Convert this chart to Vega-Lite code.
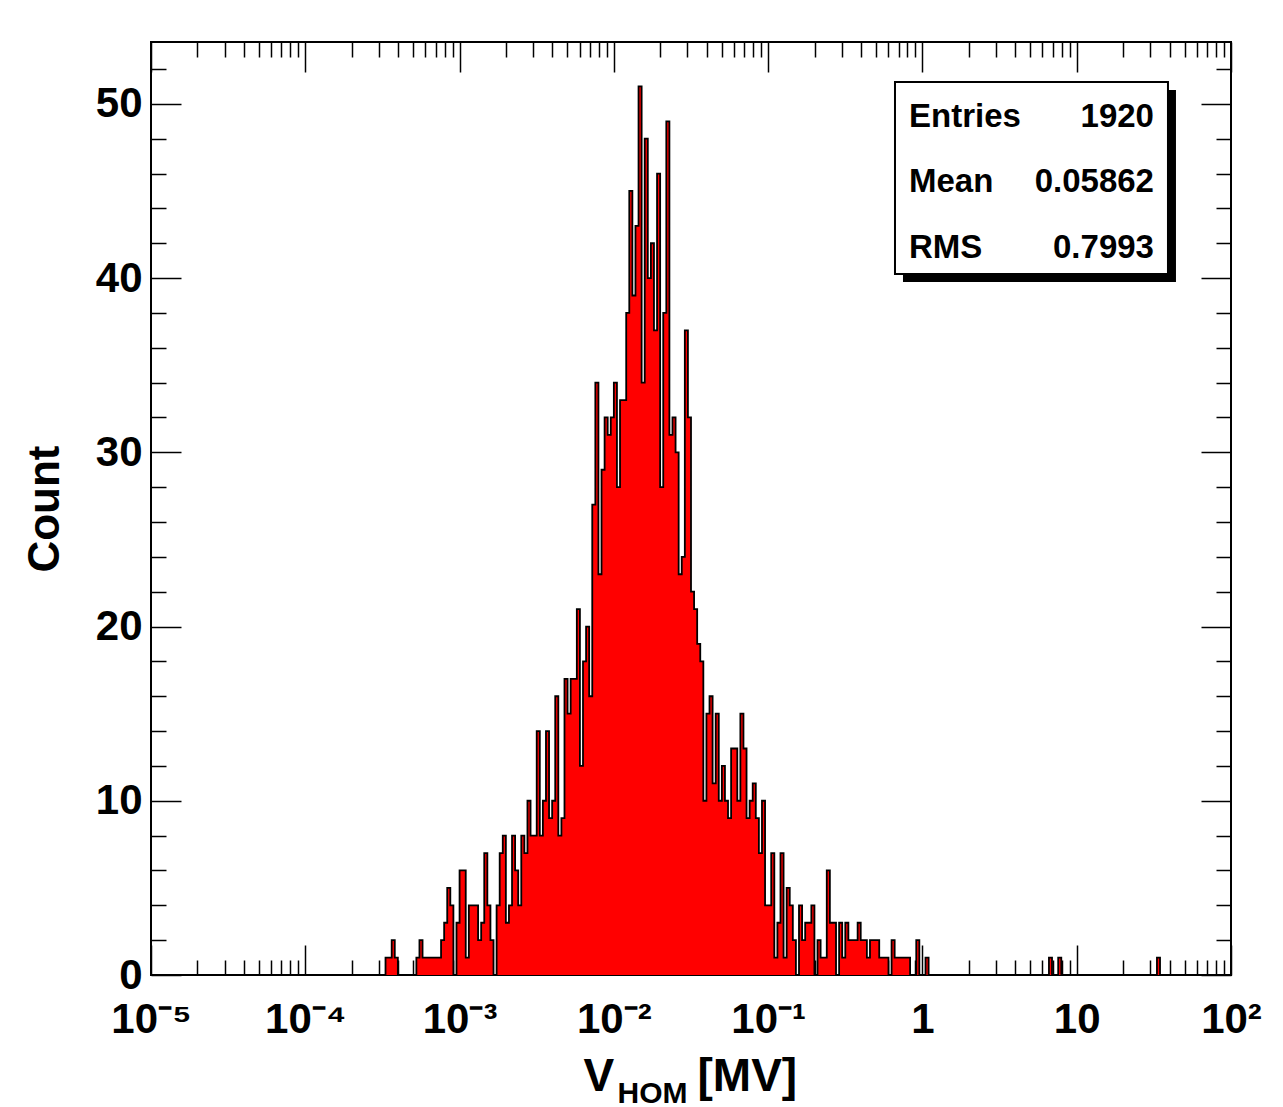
{
  "$schema": "https://vega.github.io/schema/vega-lite/v6.json",
  "width": 1080,
  "height": 933,
  "autosize": {"type": "none"},
  "padding": {"left": 151, "top": 42, "right": 52, "bottom": 132},
  "background": "#ffffff",
  "config": {"view": {"stroke": "#000000", "strokeWidth": 2}},
  "datasets": {
    "hist": [
      {"vhom": 0.00031623, "count": 0}, {"vhom": 0.00033113, "count": 1}, {"vhom": 0.00034674, "count": 1}, {"vhom": 0.00036308, "count": 2},
      {"vhom": 0.00038019, "count": 1}, {"vhom": 0.00039811, "count": 0}, {"vhom": 0.00052481, "count": 1}, {"vhom": 0.00054954, "count": 2},
      {"vhom": 0.00057544, "count": 1}, {"vhom": 0.00060256, "count": 1}, {"vhom": 0.00063096, "count": 1}, {"vhom": 0.00066069, "count": 1},
      {"vhom": 0.00069183, "count": 1}, {"vhom": 0.00072444, "count": 1}, {"vhom": 0.00075858, "count": 2}, {"vhom": 0.00079433, "count": 3},
      {"vhom": 0.00083176, "count": 5}, {"vhom": 0.00087096, "count": 4}, {"vhom": 0.00091201, "count": 0}, {"vhom": 0.00095499, "count": 3},
      {"vhom": 0.001, "count": 6}, {"vhom": 0.0010471, "count": 6}, {"vhom": 0.0010965, "count": 1}, {"vhom": 0.0011482, "count": 4},
      {"vhom": 0.0012023, "count": 4}, {"vhom": 0.0012589, "count": 4}, {"vhom": 0.0013183, "count": 2}, {"vhom": 0.0013804, "count": 3},
      {"vhom": 0.0014454, "count": 7}, {"vhom": 0.0015136, "count": 4}, {"vhom": 0.0015849, "count": 2}, {"vhom": 0.0016596, "count": 0},
      {"vhom": 0.0017378, "count": 4}, {"vhom": 0.0018197, "count": 7}, {"vhom": 0.0019055, "count": 8}, {"vhom": 0.0019953, "count": 3},
      {"vhom": 0.0020893, "count": 4}, {"vhom": 0.0021878, "count": 8}, {"vhom": 0.0022909, "count": 6}, {"vhom": 0.0023988, "count": 4},
      {"vhom": 0.0025119, "count": 8}, {"vhom": 0.0026303, "count": 7}, {"vhom": 0.0027542, "count": 10}, {"vhom": 0.002884, "count": 8},
      {"vhom": 0.00302, "count": 8}, {"vhom": 0.0031623, "count": 14}, {"vhom": 0.0033113, "count": 8}, {"vhom": 0.0034674, "count": 10},
      {"vhom": 0.0036308, "count": 14}, {"vhom": 0.0038019, "count": 9}, {"vhom": 0.0039811, "count": 10}, {"vhom": 0.0041687, "count": 16},
      {"vhom": 0.0043652, "count": 8}, {"vhom": 0.0045709, "count": 9}, {"vhom": 0.0047863, "count": 17}, {"vhom": 0.0050119, "count": 15},
      {"vhom": 0.0052481, "count": 17}, {"vhom": 0.0054954, "count": 17}, {"vhom": 0.0057544, "count": 21}, {"vhom": 0.0060256, "count": 12},
      {"vhom": 0.0063096, "count": 18}, {"vhom": 0.0066069, "count": 20}, {"vhom": 0.0069183, "count": 16}, {"vhom": 0.0072444, "count": 27},
      {"vhom": 0.0075858, "count": 34}, {"vhom": 0.0079433, "count": 23}, {"vhom": 0.0083176, "count": 29}, {"vhom": 0.0087096, "count": 32},
      {"vhom": 0.0091201, "count": 31}, {"vhom": 0.0095499, "count": 32}, {"vhom": 0.01, "count": 34}, {"vhom": 0.010471, "count": 28},
      {"vhom": 0.010965, "count": 33}, {"vhom": 0.011482, "count": 33}, {"vhom": 0.012023, "count": 38}, {"vhom": 0.012589, "count": 45},
      {"vhom": 0.013183, "count": 39}, {"vhom": 0.013804, "count": 43}, {"vhom": 0.014454, "count": 51}, {"vhom": 0.015136, "count": 34},
      {"vhom": 0.015849, "count": 48}, {"vhom": 0.016596, "count": 40}, {"vhom": 0.017378, "count": 42}, {"vhom": 0.018197, "count": 37},
      {"vhom": 0.019055, "count": 46}, {"vhom": 0.019953, "count": 28}, {"vhom": 0.020893, "count": 38}, {"vhom": 0.021878, "count": 49},
      {"vhom": 0.022909, "count": 31}, {"vhom": 0.023988, "count": 32}, {"vhom": 0.025119, "count": 30}, {"vhom": 0.026303, "count": 23},
      {"vhom": 0.027542, "count": 24}, {"vhom": 0.02884, "count": 37}, {"vhom": 0.0302, "count": 32}, {"vhom": 0.031623, "count": 22},
      {"vhom": 0.033113, "count": 21}, {"vhom": 0.034674, "count": 19}, {"vhom": 0.036308, "count": 18}, {"vhom": 0.038019, "count": 10},
      {"vhom": 0.039811, "count": 15}, {"vhom": 0.041687, "count": 16}, {"vhom": 0.043652, "count": 11}, {"vhom": 0.045709, "count": 15},
      {"vhom": 0.047863, "count": 10}, {"vhom": 0.050119, "count": 12}, {"vhom": 0.052481, "count": 10}, {"vhom": 0.054954, "count": 9},
      {"vhom": 0.057544, "count": 13}, {"vhom": 0.060256, "count": 13}, {"vhom": 0.063096, "count": 10}, {"vhom": 0.066069, "count": 15},
      {"vhom": 0.069183, "count": 13}, {"vhom": 0.072444, "count": 9}, {"vhom": 0.075858, "count": 10}, {"vhom": 0.079433, "count": 11},
      {"vhom": 0.083176, "count": 9}, {"vhom": 0.087096, "count": 7}, {"vhom": 0.091201, "count": 10}, {"vhom": 0.095499, "count": 4},
      {"vhom": 0.1, "count": 4}, {"vhom": 0.10471, "count": 7}, {"vhom": 0.10965, "count": 1}, {"vhom": 0.11482, "count": 3},
      {"vhom": 0.12023, "count": 7}, {"vhom": 0.12589, "count": 1}, {"vhom": 0.13183, "count": 5}, {"vhom": 0.13804, "count": 4},
      {"vhom": 0.14454, "count": 2}, {"vhom": 0.15136, "count": 0}, {"vhom": 0.15849, "count": 4}, {"vhom": 0.16596, "count": 2},
      {"vhom": 0.17378, "count": 3}, {"vhom": 0.18197, "count": 3}, {"vhom": 0.19055, "count": 4}, {"vhom": 0.19953, "count": 0},
      {"vhom": 0.20893, "count": 2}, {"vhom": 0.21878, "count": 1}, {"vhom": 0.22909, "count": 1}, {"vhom": 0.23988, "count": 6},
      {"vhom": 0.25119, "count": 3}, {"vhom": 0.26303, "count": 3}, {"vhom": 0.27542, "count": 0}, {"vhom": 0.2884, "count": 3},
      {"vhom": 0.302, "count": 1}, {"vhom": 0.31623, "count": 3}, {"vhom": 0.33113, "count": 2}, {"vhom": 0.34674, "count": 2},
      {"vhom": 0.36308, "count": 2}, {"vhom": 0.38019, "count": 3}, {"vhom": 0.39811, "count": 2}, {"vhom": 0.41687, "count": 2},
      {"vhom": 0.43652, "count": 1}, {"vhom": 0.45709, "count": 2}, {"vhom": 0.47863, "count": 2}, {"vhom": 0.50119, "count": 2},
      {"vhom": 0.52481, "count": 1}, {"vhom": 0.54954, "count": 1}, {"vhom": 0.57544, "count": 1}, {"vhom": 0.60256, "count": 0},
      {"vhom": 0.63096, "count": 2}, {"vhom": 0.66069, "count": 1}, {"vhom": 0.69183, "count": 1}, {"vhom": 0.72444, "count": 1},
      {"vhom": 0.75858, "count": 1}, {"vhom": 0.79433, "count": 1}, {"vhom": 0.83176, "count": 0}, {"vhom": 0.91201, "count": 2},
      {"vhom": 0.95499, "count": 0}, {"vhom": 1.0471, "count": 1}, {"vhom": 1.0965, "count": 0}, {"vhom": 6.6069, "count": 1},
      {"vhom": 6.9183, "count": 0}, {"vhom": 7.5858, "count": 1}, {"vhom": 7.9433, "count": 0}, {"vhom": 33.113, "count": 1},
      {"vhom": 34.674, "count": 0}
    ],
    "stats": [
      {"stat": "Entries", "value": "1920"},
      {"stat": "Mean", "value": "0.05862"},
      {"stat": "RMS", "value": "0.7993"}
    ],
    "box": [{"name": "stats box"}]
  },
  "resolve": {"scale": {"x": "shared", "y": "shared"}, "axis": {"x": "independent", "y": "independent"}},
  "layer": [
    {
      "data": {"name": "hist"},
      "mark": {"type": "area", "interpolate": "step-after", "color": "#ff0000", "opacity": 1},
      "encoding": {
        "x": {
          "field": "vhom", "type": "quantitative",
          "scale": {"type": "log", "domain": [0.00001, 100], "nice": false},
          "axis": {
            "orient": "bottom",
            "values": [1e-5,2e-5,3e-5,4e-5,5e-5,6e-5,7e-5,8e-5,9e-5,1e-4,2e-4,3e-4,4e-4,5e-4,6e-4,7e-4,8e-4,9e-4,0.001,0.002,0.003,0.004,0.005,0.006,0.007,0.008,0.009,0.01,0.02,0.03,0.04,0.05,0.06,0.07,0.08,0.09,0.1,0.2,0.3,0.4,0.5,0.6,0.7,0.8,0.9,1,2,3,4,5,6,7,8,9,10,20,30,40,50,60,70,80,90,100],
            "domain": false, "grid": false,
            "tickColor": "#000000", "tickWidth": 1.5,
            "tickSize": {"condition": {"test": "abs(log(datum.value)/LN10 - round(log(datum.value)/LN10)) < 0.001", "value": -30}, "value": -15},
            "labelExpr": "abs(log(datum.value)/LN10 - round(log(datum.value)/LN10)) < 0.001 ? ['10⁻⁵','10⁻⁴','10⁻³','10⁻²','10⁻¹','1','10','10²'][round(log(datum.value)/LN10)+5] : ''",
            "labelFont": "Liberation Sans", "labelFontWeight": "bold", "labelFontSize": 42, "labelColor": "#000000",
            "labelPadding": 54, "labelOverlap": false, "labelFlush": false, "labelBound": false,
            "labelBaseline": "top", "labelAlign": "center",
            "title": "V", "titleFont": "Liberation Sans", "titleFontWeight": "bold", "titleFontSize": 46, "titleColor": "#000000",
            "titleX": 432, "titleY": 115, "titleAlign": "left", "titleBaseline": "alphabetic", "titleAngle": 0
          }
        },
        "y": {
          "field": "count", "type": "quantitative",
          "scale": {"domain": [0, 53.55], "nice": false, "zero": true},
          "axis": {
            "orient": "left",
            "values": [0,2,4,6,8,10,12,14,16,18,20,22,24,26,28,30,32,34,36,38,40,42,44,46,48,50,52],
            "domain": false, "grid": false,
            "tickColor": "#000000", "tickWidth": 1.5,
            "tickSize": {"condition": {"test": "datum.value % 10 === 0", "value": -30}, "value": -15},
            "labelExpr": "datum.value % 10 === 0 ? datum.label : ''",
            "labelFont": "Liberation Sans", "labelFontWeight": "bold", "labelFontSize": 42, "labelColor": "#000000",
            "labelPadding": 39, "labelOverlap": false, "labelFlush": false, "labelBound": false,
            "title": "Count", "titleFont": "Liberation Sans", "titleFontWeight": "bold", "titleFontSize": 44, "titleColor": "#000000",
            "titlePadding": 28
          }
        }
      }
    },
    {
      "data": {"name": "hist"},
      "mark": {"type": "line", "interpolate": "step-after", "color": "#000000", "strokeWidth": 1.8},
      "encoding": {
        "x": {
          "field": "vhom", "type": "quantitative",
          "scale": {"type": "log", "domain": [0.00001, 100], "nice": false},
          "axis": {
            "orient": "top",
            "values": [1e-5,2e-5,3e-5,4e-5,5e-5,6e-5,7e-5,8e-5,9e-5,1e-4,2e-4,3e-4,4e-4,5e-4,6e-4,7e-4,8e-4,9e-4,0.001,0.002,0.003,0.004,0.005,0.006,0.007,0.008,0.009,0.01,0.02,0.03,0.04,0.05,0.06,0.07,0.08,0.09,0.1,0.2,0.3,0.4,0.5,0.6,0.7,0.8,0.9,1,2,3,4,5,6,7,8,9,10,20,30,40,50,60,70,80,90,100],
            "domain": false, "grid": false, "labels": false,
            "tickColor": "#000000", "tickWidth": 1.5,
            "tickSize": {"condition": {"test": "abs(log(datum.value)/LN10 - round(log(datum.value)/LN10)) < 0.001", "value": -30}, "value": -15},
            "title": "HOM", "titleFont": "Liberation Sans", "titleFontWeight": "bold", "titleFontSize": 30, "titleColor": "#000000",
            "titleX": 466, "titleY": 1060, "titleAlign": "left", "titleBaseline": "alphabetic", "titleAngle": 0
          }
        },
        "y": {
          "field": "count", "type": "quantitative",
          "scale": {"domain": [0, 53.55], "nice": false, "zero": true},
          "axis": {
            "orient": "right",
            "values": [0,2,4,6,8,10,12,14,16,18,20,22,24,26,28,30,32,34,36,38,40,42,44,46,48,50,52],
            "domain": false, "grid": false, "labels": false,
            "tickColor": "#000000", "tickWidth": 1.5,
            "tickSize": {"condition": {"test": "datum.value % 10 === 0", "value": -30}, "value": -15},
            "title": "[MV]", "titleFont": "Liberation Sans", "titleFontWeight": "bold", "titleFontSize": 46, "titleColor": "#000000",
            "titleX": -534, "titleY": 1048, "titleAlign": "left", "titleBaseline": "alphabetic", "titleAngle": 0
          }
        }
      }
    },
    {
      "data": {"name": "box"},
      "mark": {"type": "rect", "color": "#000000"},
      "encoding": {
        "x": {"datum": 0.7482, "type": "quantitative", "scale": {"type": "log", "domain": [0.00001, 100], "nice": false}, "axis": null},
        "x2": {"datum": 43.99},
        "y": {"datum": 50.80, "type": "quantitative", "scale": {"domain": [0, 53.55], "nice": false, "zero": true}, "axis": null},
        "y2": {"datum": 39.78}
      }
    },
    {
      "data": {"name": "box"},
      "mark": {"type": "rect", "fill": "#ffffff", "stroke": "#000000", "strokeWidth": 2},
      "encoding": {
        "x": {"datum": 0.664, "type": "quantitative", "scale": {"type": "log", "domain": [0.00001, 100], "nice": false}, "axis": null},
        "x2": {"datum": 39.04},
        "y": {"datum": 51.26, "type": "quantitative", "scale": {"domain": [0, 53.55], "nice": false, "zero": true}, "axis": null},
        "y2": {"datum": 40.24}
      }
    },
    {
      "data": {"name": "stats"},
      "transform": [{"filter": "datum.stat === 'Entries'"}],
      "mark": {"type": "text", "align": "left", "baseline": "alphabetic", "font": "Liberation Sans", "fontWeight": "bold", "fontSize": 33, "color": "#000000"},
      "encoding": {
        "x": {"datum": 0.8181, "type": "quantitative", "scale": {"type": "log", "domain": [0.00001, 100], "nice": false}, "axis": null},
        "y": {"datum": 48.66, "type": "quantitative", "scale": {"domain": [0, 53.55], "nice": false, "zero": true}, "axis": null},
        "text": {"field": "stat", "type": "nominal"}
      }
    },
    {
      "data": {"name": "stats"},
      "transform": [{"filter": "datum.stat === 'Entries'"}],
      "mark": {"type": "text", "align": "right", "baseline": "alphabetic", "font": "Liberation Sans", "fontWeight": "bold", "fontSize": 33, "color": "#000000"},
      "encoding": {
        "x": {"datum": 31.67, "type": "quantitative", "scale": {"type": "log", "domain": [0.00001, 100], "nice": false}, "axis": null},
        "y": {"datum": 48.66, "type": "quantitative", "scale": {"domain": [0, 53.55], "nice": false, "zero": true}, "axis": null},
        "text": {"field": "value", "type": "nominal"}
      }
    },
    {
      "data": {"name": "stats"},
      "transform": [{"filter": "datum.stat === 'Mean'"}],
      "mark": {"type": "text", "align": "left", "baseline": "alphabetic", "font": "Liberation Sans", "fontWeight": "bold", "fontSize": 33, "color": "#000000"},
      "encoding": {
        "x": {"datum": 0.8181, "type": "quantitative", "scale": {"type": "log", "domain": [0.00001, 100], "nice": false}, "axis": null},
        "y": {"datum": 44.95, "type": "quantitative", "scale": {"domain": [0, 53.55], "nice": false, "zero": true}, "axis": null},
        "text": {"field": "stat", "type": "nominal"}
      }
    },
    {
      "data": {"name": "stats"},
      "transform": [{"filter": "datum.stat === 'Mean'"}],
      "mark": {"type": "text", "align": "right", "baseline": "alphabetic", "font": "Liberation Sans", "fontWeight": "bold", "fontSize": 33, "color": "#000000"},
      "encoding": {
        "x": {"datum": 31.67, "type": "quantitative", "scale": {"type": "log", "domain": [0.00001, 100], "nice": false}, "axis": null},
        "y": {"datum": 44.95, "type": "quantitative", "scale": {"domain": [0, 53.55], "nice": false, "zero": true}, "axis": null},
        "text": {"field": "value", "type": "nominal"}
      }
    },
    {
      "data": {"name": "stats"},
      "transform": [{"filter": "datum.stat === 'RMS'"}],
      "mark": {"type": "text", "align": "left", "baseline": "alphabetic", "font": "Liberation Sans", "fontWeight": "bold", "fontSize": 33, "color": "#000000"},
      "encoding": {
        "x": {"datum": 0.8181, "type": "quantitative", "scale": {"type": "log", "domain": [0.00001, 100], "nice": false}, "axis": null},
        "y": {"datum": 41.16, "type": "quantitative", "scale": {"domain": [0, 53.55], "nice": false, "zero": true}, "axis": null},
        "text": {"field": "stat", "type": "nominal"}
      }
    },
    {
      "data": {"name": "stats"},
      "transform": [{"filter": "datum.stat === 'RMS'"}],
      "mark": {"type": "text", "align": "right", "baseline": "alphabetic", "font": "Liberation Sans", "fontWeight": "bold", "fontSize": 33, "color": "#000000"},
      "encoding": {
        "x": {"datum": 31.67, "type": "quantitative", "scale": {"type": "log", "domain": [0.00001, 100], "nice": false}, "axis": null},
        "y": {"datum": 41.16, "type": "quantitative", "scale": {"domain": [0, 53.55], "nice": false, "zero": true}, "axis": null},
        "text": {"field": "value", "type": "nominal"}
      }
    }
  ]
}
